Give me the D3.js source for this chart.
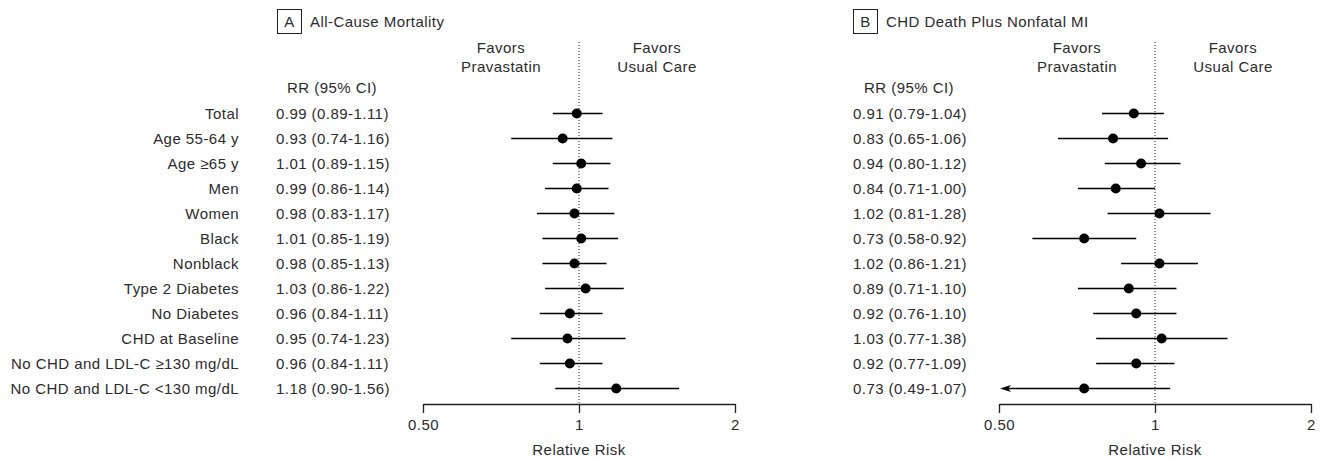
<!DOCTYPE html>
<html>
<head>
<meta charset="utf-8">
<script src="https://cdn.jsdelivr.net/npm/d3@7"></script>
<style>
  body { margin: 0; background: #fff; }
  text { font-family: "Liberation Sans", Arial, sans-serif; fill: #2b2b2b; letter-spacing: 0.45px; }
</style>
</head>
<body>
<div id="chart"></div>
<script>
// subgroups (rows)
var categories = ["Total", "Age 55-64 y", "Age \u226565 y", "Men", "Women", "Black", "Nonblack",
  "Type 2 Diabetes", "No Diabetes", "CHD at Baseline", "No CHD and LDL-C \u2265130 mg/dL",
  "No CHD and LDL-C <130 mg/dL"];

// panel A: all-cause mortality
var rrA    = [0.99, 0.93, 1.01, 0.99, 0.98, 1.01, 0.98, 1.03, 0.96, 0.95, 0.96, 1.18];
var lowerA = [0.89, 0.74, 0.89, 0.86, 0.83, 0.85, 0.85, 0.86, 0.84, 0.74, 0.84, 0.90];
var upperA = [1.11, 1.16, 1.15, 1.14, 1.17, 1.19, 1.13, 1.22, 1.11, 1.23, 1.11, 1.56];

// panel B: CHD death plus nonfatal MI
var rrB    = [0.91, 0.83, 0.94, 0.84, 1.02, 0.73, 1.02, 0.89, 0.92, 1.03, 0.92, 0.73];
var lowerB = [0.79, 0.65, 0.80, 0.71, 0.81, 0.58, 0.86, 0.71, 0.76, 0.77, 0.77, 0.49];
var upperB = [1.04, 1.06, 1.12, 1.00, 1.28, 0.92, 1.21, 1.10, 1.10, 1.38, 1.09, 1.07];

var tickValues = [0.5, 1, 2];
var tickLabels = ["0.50", "1", "2"];

var width = 1320, height = 459;
var fontSize = 15;

var svg = d3.select("#chart").append("svg")
    .attr("width", width)
    .attr("height", height);

// row positions
var y = d3.scalePoint()
    .domain(categories)
    .range([113.5, 388.5]);

var axisY = 404;

function fmt(v) { return v.toFixed(2); }

// category labels (only on the left)
svg.append("g")
  .selectAll("text")
  .data(categories)
  .join("text")
    .attr("x", 239)
    .attr("y", d => y(d))
    .attr("dy", "0.35em")
    .attr("text-anchor", "end")
    .style("font-size", fontSize + "px")
    .text(d => d);

function drawPanel(opts) {
  var x = d3.scaleLog().base(2)
      .domain([0.5, 2])
      .range(opts.range);

  var g = svg.append("g");

  // panel title with boxed letter
  g.append("rect")
    .attr("x", opts.boxX + 0.5)
    .attr("y", 9.5)
    .attr("width", 24)
    .attr("height", 24)
    .attr("fill", "none")
    .attr("stroke", "#222")
    .attr("stroke-width", 1);
  g.append("text")
    .attr("x", opts.boxX + 12.5)
    .attr("y", 22)
    .attr("dy", "0.35em")
    .attr("text-anchor", "middle")
    .style("font-size", fontSize + "px")
    .text(opts.letter);
  g.append("text")
    .attr("x", opts.boxX + 33)
    .attr("y", 22)
    .attr("dy", "0.35em")
    .style("font-size", fontSize + "px")
    .text(opts.title);

  // "Favors" headers
  [[Math.SQRT1_2, "Favors", "Pravastatin"], [Math.SQRT2, "Favors", "Usual Care"]].forEach(function (h) {
    var t = g.append("text")
      .attr("text-anchor", "middle")
      .style("font-size", fontSize + "px");
    t.append("tspan").attr("x", x(h[0])).attr("y", 53).text(h[1]);
    t.append("tspan").attr("x", x(h[0])).attr("y", 72).text(h[2]);
  });

  // RR column
  var colCenter = opts.colX + 56;
  g.append("text")
    .attr("x", colCenter)
    .attr("y", 88)
    .attr("dy", "0.35em")
    .attr("text-anchor", "middle")
    .style("font-size", fontSize + "px")
    .text("RR (95% CI)");

  var rows = categories.map(function (c, i) {
    return { cat: c, rr: opts.rr[i], lo: opts.lo[i], hi: opts.hi[i] };
  });

  g.append("g")
    .selectAll("text")
    .data(rows)
    .join("text")
      .attr("x", opts.colX)
      .attr("y", d => y(d.cat))
      .attr("dy", "0.35em")
      .style("font-size", fontSize + "px")
      .text(d => fmt(d.rr) + " (" + fmt(d.lo) + "-" + fmt(d.hi) + ")");

  // reference line at 1
  g.append("line")
    .attr("x1", x(1)).attr("x2", x(1))
    .attr("y1", 42).attr("y2", axisY)
    .attr("stroke", "#222")
    .attr("stroke-width", 1)
    .attr("stroke-dasharray", "1,2");

  // confidence intervals
  var dmin = x.domain()[0];
  g.append("g")
    .selectAll("line")
    .data(rows)
    .join("line")
      .attr("x1", d => x(Math.max(d.lo, dmin)) + (d.lo < dmin ? 6 : 0))
      .attr("x2", d => x(d.hi))
      .attr("y1", d => y(d.cat))
      .attr("y2", d => y(d.cat))
      .attr("stroke", "#000")
      .attr("stroke-width", 1.3);

  // arrowheads where the CI runs off the axis
  g.append("g")
    .selectAll("path")
    .data(rows.filter(d => d.lo < dmin))
    .join("path")
      .attr("d", function (d) {
        var x0 = x(dmin) + 1, yy = y(d.cat);
        return "M" + x0 + "," + yy + "L" + (x0 + 11) + "," + (yy - 3.5) + "L" + (x0 + 8) + "," + yy +
               "L" + (x0 + 11) + "," + (yy + 3.5) + "Z";
      })
      .attr("fill", "#000");

  // point estimates
  g.append("g")
    .selectAll("circle")
    .data(rows)
    .join("circle")
      .attr("cx", d => x(d.rr))
      .attr("cy", d => y(d.cat))
      .attr("r", 5)
      .attr("fill", "#000");

  // axis
  var axis = g.append("g")
    .attr("transform", "translate(0," + axisY + ")")
    .call(d3.axisBottom(x)
      .tickValues(tickValues)
      .tickFormat((d, i) => tickLabels[i])
      .tickSizeInner(9)
      .tickSizeOuter(0)
      .tickPadding(6));
  axis.select(".domain").attr("stroke", "#222").attr("stroke-width", 1.3);
  axis.selectAll(".tick line").attr("stroke", "#222").attr("stroke-width", 1.3);
  axis.selectAll(".tick text")
    .style("font-family", "\"Liberation Sans\", Arial, sans-serif")
    .style("font-size", fontSize + "px")
    .attr("fill", "#2b2b2b");

  g.append("text")
    .attr("x", x(1))
    .attr("y", 450)
    .attr("dy", "0.35em")
    .attr("text-anchor", "middle")
    .style("font-size", fontSize + "px")
    .text("Relative Risk");
}

drawPanel({ letter: "A", title: "All-Cause Mortality", boxX: 277, colX: 276,
  range: [423, 735], rr: rrA, lo: lowerA, hi: upperA });
drawPanel({ letter: "B", title: "CHD Death Plus Nonfatal MI", boxX: 853, colX: 853,
  range: [999, 1311], rr: rrB, lo: lowerB, hi: upperB });
</script>
</body>
</html>
